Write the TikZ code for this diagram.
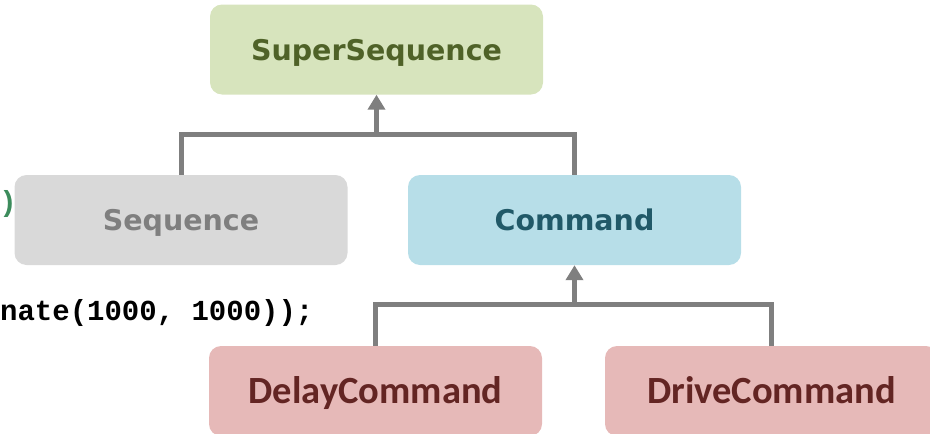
\documentclass[tikz,border=0pt]{standalone}
\usepackage{fontspec}
\newfontfamily\boxfont{DejaVu Sans}
\newfontfamily\redfont{Carlito}
\newfontfamily\codefont{Liberation Mono}
\usetikzlibrary{arrows.meta}
\definecolor{greenfill}{HTML}{D7E4BD}
\definecolor{greentext}{HTML}{4F6228}
\definecolor{grayfill}{HTML}{D9D9D9}
\definecolor{graytext}{HTML}{7F7F7F}
\definecolor{bluefill}{HTML}{B7DEE8}
\definecolor{bluetext}{HTML}{215968}
\definecolor{redfill}{HTML}{E6B9B8}
\definecolor{redtext}{HTML}{632523}
\definecolor{conncol}{HTML}{7F7F7F}
\definecolor{codegreen}{HTML}{3C8C5C}
\tikzset{
  classbox/.style={rectangle, rounded corners=12pt, minimum width=333pt, minimum height=90pt, inner sep=0pt, draw=none},
  upperfont/.style={font=\boxfont\bfseries\fontsize{28.5}{34}\selectfont, text height=21pt, text depth=0pt},
  lowerfont/.style={font=\redfont\bfseries\fontsize{38.5}{44}\selectfont, text height=25pt, text depth=0pt},
  conn/.style={draw=conncol, line width=5pt, line join=miter},
  inherit/.style={conn, -{Triangle[width=17pt,length=15pt]}},
  codetext/.style={font=\codefont\bfseries\fontsize{29}{34}\selectfont, inner sep=0pt}
}
\begin{document}
\begin{tikzpicture}[x=1pt,y=-1pt]
\useasboundingbox (0,0) rectangle (930,434);
\clip (0,0) rectangle (930,434);
% code fragments behind
\node[codetext, anchor=base east, text=codegreen] (paren) at (17,211) {)};
\node[codetext, anchor=base west, text=black] (codeline) at (0,320) {nate(1000, 1000));};
% boxes
\node[classbox, fill=greenfill, text=greentext, upperfont] (super) at (376.5,49.5) {SuperSequence};
\node[classbox, fill=grayfill, text=graytext, upperfont] (seq) at (181,220) {Sequence};
\node[classbox, fill=bluefill, text=bluetext, upperfont] (cmd) at (574.5,220) {Command};
\node[classbox, fill=redfill, text=redtext, lowerfont] (delay) at (375.5,391) {DelayCommand};
\node[classbox, fill=redfill, text=redtext, lowerfont] (drive) at (771.5,391) {DriveCommand};
% connectors
\coordinate (j1) at (376.5,134);
\coordinate (j2) at (574.5,304);
\draw[conn] (seq.north) |- (j1) -| (cmd.north);
\draw[inherit] (j1) -- (super.south);
\draw[conn] (delay.north) |- (j2) -| (drive.north);
\draw[inherit] (j2) -- (cmd.south);
\end{tikzpicture}
\end{document}
